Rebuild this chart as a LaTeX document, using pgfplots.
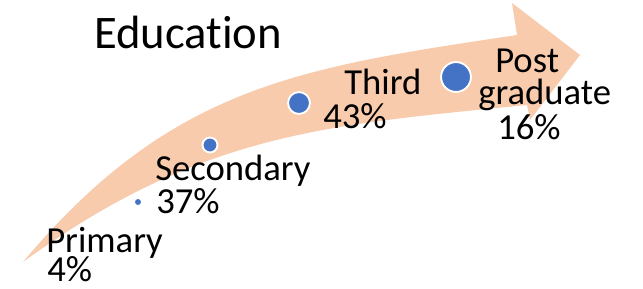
\documentclass[border=0pt]{standalone}
\usepackage{pgfplots}
\pgfplotsset{compat=1.18}
\usepackage{fontspec}
\setmainfont{Carlito}[Ligatures={NoCommon,NoContextual}]
\definecolor{peach}{RGB}{248,203,173}
\definecolor{dotblue}{RGB}{68,114,196}
\tikzset{lbl/.style={anchor=base west, inner sep=0pt, font=\fontsize{27.5}{24.75}\selectfont}}
\begin{document}
\begin{tikzpicture}
\begin{axis}[
  scale only axis, width=482.25pt, height=216.75pt,
  xmin=0, xmax=643, ymin=0, ymax=289, y dir=reverse,
  hide axis, clip=false,
]
\coordinate (ll) at (rel axis cs:0,0);
\coordinate (ur) at (rel axis cs:1,1);
% arrow (decoration)
\fill[peach] (axis cs:23,262) .. controls (axis cs:170.8,85.8) and (axis cs:299.4,67.6) .. (axis cs:517,35)
  -- (axis cs:512,3) -- (axis cs:580,55) -- (axis cs:530,120) -- (axis cs:527,105)
  .. controls (axis cs:327,125) and (axis cs:201,132.6) .. (axis cs:23,262) -- cycle;
% circles
\addplot[only marks, mark=*, mark size=2pt, mark options={fill=dotblue, draw=dotblue, line width=0.3pt}] coordinates {(138,202)};
\addplot[only marks, mark=*, mark size=5.6pt, mark options={fill=dotblue, draw=white, line width=1.4pt}] coordinates {(210,145)};
\addplot[only marks, mark=*, mark size=8.2pt, mark options={fill=dotblue, draw=white, line width=1.4pt}] coordinates {(299,103)};
\addplot[only marks, mark=*, mark size=11.2pt, mark options={fill=dotblue, draw=white, line width=1.4pt}] coordinates {(456,77)};
% title
\node[anchor=base west, inner sep=0pt, font=\fontsize{35}{40}\selectfont] at (axis cs:94,48) {Education};
% labels
\node[lbl] at (axis cs:46,252) {Primary};
\node[lbl] at (axis cs:47,281) {4\%};
\node[lbl] at (axis cs:155,180) {Secondary};
\node[lbl] at (axis cs:156,213) {37\%};
\node[lbl] at (axis cs:344,94) {Third};
\node[lbl] at (axis cs:323,128) {43\%};
\node[lbl] at (axis cs:495,72) {Post};
\node[lbl] at (axis cs:478,104) {graduate};
\node[lbl] at (axis cs:497,139) {16\%};
\end{axis}
\pgfresetboundingbox
\path (ll) rectangle (ur);
\end{tikzpicture}
\end{document}
